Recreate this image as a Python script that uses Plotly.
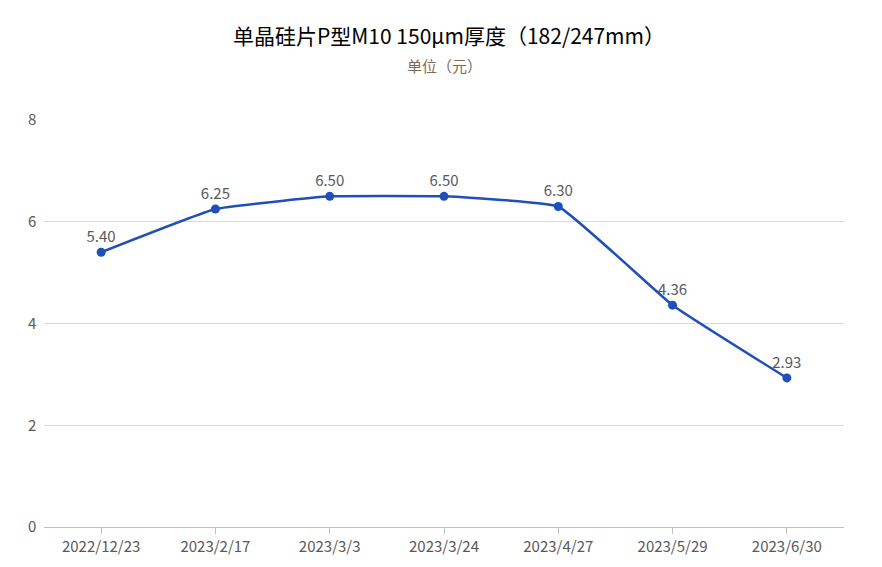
import plotly.graph_objects as go

dates = ["2022/12/23", "2023/2/17", "2023/3/3", "2023/3/24", "2023/4/27", "2023/5/29", "2023/6/30"]
prices = [5.40, 6.25, 6.50, 6.50, 6.30, 4.36, 2.93]

fig = go.Figure()
fig.add_trace(go.Scatter(
    x=dates, y=prices, mode="lines+markers+text",
    line=dict(color="#1f4fb8", width=2.5, shape="spline", smoothing=0.3),
    marker=dict(color="#1f4fb8", size=9),
    text=[f"{v:.2f}" for v in prices], textposition="top center",
    textfont=dict(size=15, color="#595959"),
))

fig.update_layout(
    width=882, height=567,
    margin=dict(l=36, r=46, t=112, b=48),
    paper_bgcolor="white", plot_bgcolor="white",
    font=dict(family="Noto Sans CJK SC, Noto Sans, sans-serif"),
    showlegend=False,
    title=dict(text="单晶硅片P型M10 150μm厚度（182/247mm）", x=0.5, xanchor="center",
               y=0.962, font=dict(size=21, color="#000000")),
    annotations=[dict(text="单位（元）", x=0.5, xref="paper", yref="paper",
                      y=(567 - 48 - 58) / (567 - 160), yanchor="middle",
                      showarrow=False, font=dict(size=15, color="#7f6a55"))],
)
fig.update_xaxes(type="category", range=[-0.5, 6.5], showgrid=False,
                 showline=True, linecolor="#bfbfbf", ticks="outside", tickcolor="#bfbfbf",
                 ticklen=6, tickfont=dict(size=15, color="#595959"))
fig.update_yaxes(range=[0, 8], dtick=2, showgrid=True, gridcolor="#d9d9d9",
                 zeroline=False, tickfont=dict(size=15, color="#595959"), ticksuffix="  ")

fig.write_html("out.html")
